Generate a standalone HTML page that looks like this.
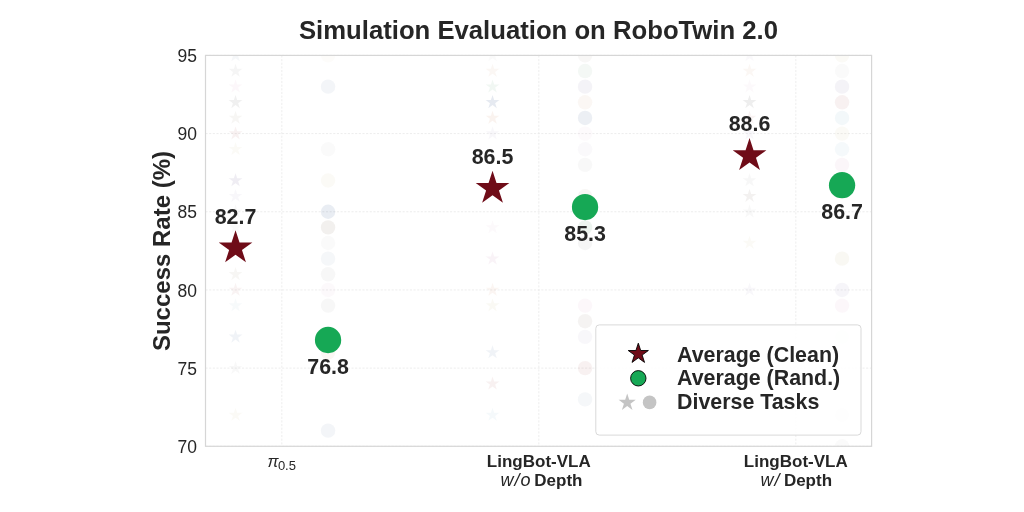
<!DOCTYPE html>
<html><head><meta charset="utf-8"><style>
html,body{margin:0;padding:0;background:#fff;width:1024px;height:512px;overflow:hidden}
svg{display:block;will-change:transform}
text{font-family:"Liberation Sans",sans-serif;fill:#262626}
.dl{font-size:21.4px;font-weight:bold}
.yt{font-size:17.5px}
.xt{font-size:17px;font-weight:bold}
.ti{font-size:25.7px;font-weight:bold}
.yl{font-size:24px;font-weight:bold}
.lg{font-size:21.4px;font-weight:bold}
</style></head><body>
<svg width="1024" height="512" viewBox="0 0 1024 512"><rect width="1024" height="512" fill="#fff"/><defs><clipPath id="pa"><rect x="205.50" y="55.40" width="666.10" height="390.90"/></clipPath></defs><path d="M205.50,446.30H871.60 M205.50,368.12H871.60 M205.50,289.94H871.60 M205.50,211.76H871.60 M205.50,133.58H871.60 M205.50,55.40H871.60 M281.80,55.40V446.30 M538.80,55.40V446.30 M795.80,55.40V446.30" stroke="#e8e8e8" stroke-width="0.8" stroke-dasharray="2.1,1.55" fill="none"/><g clip-path="url(#pa)"><path d="M235.54,48.20 L233.92,53.18 L228.69,53.18 L232.92,56.25 L231.31,61.22 L235.54,58.15 L239.77,61.22 L238.16,56.25 L242.39,53.18 L237.16,53.18 Z" fill="#54719f" fill-opacity="0.058"/><path d="M235.54,63.84 L233.92,68.81 L228.69,68.81 L232.92,71.89 L231.31,76.86 L235.54,73.79 L239.77,76.86 L238.16,71.89 L242.39,68.81 L237.16,68.81 Z" fill="#8c8c8c" fill-opacity="0.086"/><path d="M235.54,79.47 L233.92,84.45 L228.69,84.45 L232.92,87.52 L231.31,92.50 L235.54,89.42 L239.77,92.50 L238.16,87.52 L242.39,84.45 L237.16,84.45 Z" fill="#ce93bd" fill-opacity="0.072"/><path d="M235.54,95.11 L233.92,100.08 L228.69,100.08 L232.92,103.16 L231.31,108.13 L235.54,105.06 L239.77,108.13 L238.16,103.16 L242.39,100.08 L237.16,100.08 Z" fill="#8c8c8c" fill-opacity="0.130"/><path d="M235.54,110.74 L233.92,115.72 L228.69,115.72 L232.92,118.79 L231.31,123.77 L235.54,120.69 L239.77,123.77 L238.16,118.79 L242.39,115.72 L237.16,115.72 Z" fill="#8e7967" fill-opacity="0.072"/><path d="M235.54,126.38 L233.92,131.36 L228.69,131.36 L232.92,134.43 L231.31,139.40 L235.54,136.33 L239.77,139.40 L238.16,134.43 L242.39,131.36 L237.16,131.36 Z" fill="#af575a" fill-opacity="0.086"/><path d="M235.54,142.02 L233.92,146.99 L228.69,146.99 L232.92,150.07 L231.31,155.04 L235.54,151.97 L239.77,155.04 L238.16,150.07 L242.39,146.99 L237.16,146.99 Z" fill="#c7b885" fill-opacity="0.072"/><path d="M235.54,173.29 L233.92,178.26 L228.69,178.26 L232.92,181.34 L231.31,186.31 L235.54,183.24 L239.77,186.31 L238.16,181.34 L242.39,178.26 L237.16,178.26 Z" fill="#8075a6" fill-opacity="0.130"/><path d="M235.54,188.92 L233.92,193.90 L228.69,193.90 L232.92,196.97 L231.31,201.95 L235.54,198.87 L239.77,201.95 L238.16,196.97 L242.39,193.90 L237.16,193.90 Z" fill="#8075a6" fill-opacity="0.058"/><path d="M235.54,204.56 L233.92,209.54 L228.69,209.54 L232.92,212.61 L231.31,217.58 L235.54,214.51 L239.77,217.58 L238.16,212.61 L242.39,209.54 L237.16,209.54 Z" fill="#8c8c8c" fill-opacity="0.058"/><path d="M235.54,220.20 L233.92,225.17 L228.69,225.17 L232.92,228.25 L231.31,233.22 L235.54,230.15 L239.77,233.22 L238.16,228.25 L242.39,225.17 L237.16,225.17 Z" fill="#8c8c8c" fill-opacity="0.043"/><path d="M235.54,267.10 L233.92,272.08 L228.69,272.08 L232.92,275.15 L231.31,280.13 L235.54,277.05 L239.77,280.13 L238.16,275.15 L242.39,272.08 L237.16,272.08 Z" fill="#8e7967" fill-opacity="0.072"/><path d="M235.54,282.74 L233.92,287.72 L228.69,287.72 L232.92,290.79 L231.31,295.76 L235.54,292.69 L239.77,295.76 L238.16,290.79 L242.39,287.72 L237.16,287.72 Z" fill="#af575a" fill-opacity="0.072"/><path d="M235.54,298.38 L233.92,303.35 L228.69,303.35 L232.92,306.43 L231.31,311.40 L235.54,308.33 L239.77,311.40 L238.16,306.43 L242.39,303.35 L237.16,303.35 Z" fill="#73b0c2" fill-opacity="0.058"/><path d="M235.54,329.65 L233.92,334.62 L228.69,334.62 L232.92,337.70 L231.31,342.67 L235.54,339.60 L239.77,342.67 L238.16,337.70 L242.39,334.62 L237.16,334.62 Z" fill="#54719f" fill-opacity="0.086"/><path d="M235.54,360.92 L233.92,365.90 L228.69,365.90 L232.92,368.97 L231.31,373.94 L235.54,370.87 L239.77,373.94 L238.16,368.97 L242.39,365.90 L237.16,365.90 Z" fill="#8c8c8c" fill-opacity="0.058"/><path d="M235.54,407.83 L233.92,412.80 L228.69,412.80 L232.92,415.88 L231.31,420.85 L235.54,417.78 L239.77,420.85 L238.16,415.88 L242.39,412.80 L237.16,412.80 Z" fill="#c7b885" fill-opacity="0.072"/><circle cx="328.06" cy="55.40" r="7.2" fill="#c7b885" fill-opacity="0.043"/><circle cx="328.06" cy="86.67" r="7.2" fill="#54719f" fill-opacity="0.072"/><circle cx="328.06" cy="149.22" r="7.2" fill="#8c8c8c" fill-opacity="0.043"/><circle cx="328.06" cy="180.49" r="7.2" fill="#c7b885" fill-opacity="0.072"/><circle cx="328.06" cy="211.76" r="7.2" fill="#54719f" fill-opacity="0.130"/><circle cx="328.06" cy="227.40" r="7.2" fill="#8e7967" fill-opacity="0.115"/><circle cx="328.06" cy="243.03" r="7.2" fill="#8c8c8c" fill-opacity="0.043"/><circle cx="328.06" cy="258.67" r="7.2" fill="#54719f" fill-opacity="0.058"/><circle cx="328.06" cy="274.30" r="7.2" fill="#8c8c8c" fill-opacity="0.072"/><circle cx="328.06" cy="289.94" r="7.2" fill="#ce93bd" fill-opacity="0.058"/><circle cx="328.06" cy="305.58" r="7.2" fill="#8c8c8c" fill-opacity="0.072"/><circle cx="328.06" cy="352.48" r="7.2" fill="#cc8964" fill-opacity="0.072"/><circle cx="328.06" cy="430.66" r="7.2" fill="#54719f" fill-opacity="0.072"/><path d="M492.54,48.20 L490.92,53.18 L485.69,53.18 L489.92,56.25 L488.31,61.22 L492.54,58.15 L496.77,61.22 L495.16,56.25 L499.39,53.18 L494.16,53.18 Z" fill="#8c8c8c" fill-opacity="0.043"/><path d="M492.54,63.84 L490.92,68.81 L485.69,68.81 L489.92,71.89 L488.31,76.86 L492.54,73.79 L496.77,76.86 L495.16,71.89 L499.39,68.81 L494.16,68.81 Z" fill="#cc8964" fill-opacity="0.072"/><path d="M492.54,79.47 L490.92,84.45 L485.69,84.45 L489.92,87.52 L488.31,92.50 L492.54,89.42 L496.77,92.50 L495.16,87.52 L499.39,84.45 L494.16,84.45 Z" fill="#62a070" fill-opacity="0.086"/><path d="M492.54,95.11 L490.92,100.08 L485.69,100.08 L489.92,103.16 L488.31,108.13 L492.54,105.06 L496.77,108.13 L495.16,103.16 L499.39,100.08 L494.16,100.08 Z" fill="#54719f" fill-opacity="0.144"/><path d="M492.54,110.74 L490.92,115.72 L485.69,115.72 L489.92,118.79 L488.31,123.77 L492.54,120.69 L496.77,123.77 L495.16,118.79 L499.39,115.72 L494.16,115.72 Z" fill="#cc8964" fill-opacity="0.101"/><path d="M492.54,126.38 L490.92,131.36 L485.69,131.36 L489.92,134.43 L488.31,139.40 L492.54,136.33 L496.77,139.40 L495.16,134.43 L499.39,131.36 L494.16,131.36 Z" fill="#8075a6" fill-opacity="0.058"/><path d="M492.54,220.20 L490.92,225.17 L485.69,225.17 L489.92,228.25 L488.31,233.22 L492.54,230.15 L496.77,233.22 L495.16,228.25 L499.39,225.17 L494.16,225.17 Z" fill="#ce93bd" fill-opacity="0.058"/><path d="M492.54,251.47 L490.92,256.44 L485.69,256.44 L489.92,259.52 L488.31,264.49 L492.54,261.42 L496.77,264.49 L495.16,259.52 L499.39,256.44 L494.16,256.44 Z" fill="#ce93bd" fill-opacity="0.115"/><path d="M492.54,282.74 L490.92,287.72 L485.69,287.72 L489.92,290.79 L488.31,295.76 L492.54,292.69 L496.77,295.76 L495.16,290.79 L499.39,287.72 L494.16,287.72 Z" fill="#cc8964" fill-opacity="0.086"/><path d="M492.54,298.38 L490.92,303.35 L485.69,303.35 L489.92,306.43 L488.31,311.40 L492.54,308.33 L496.77,311.40 L495.16,306.43 L499.39,303.35 L494.16,303.35 Z" fill="#c7b885" fill-opacity="0.086"/><path d="M492.54,345.28 L490.92,350.26 L485.69,350.26 L489.92,353.33 L488.31,358.31 L492.54,355.23 L496.77,358.31 L495.16,353.33 L499.39,350.26 L494.16,350.26 Z" fill="#54719f" fill-opacity="0.086"/><path d="M492.54,376.56 L490.92,381.53 L485.69,381.53 L489.92,384.61 L488.31,389.58 L492.54,386.51 L496.77,389.58 L495.16,384.61 L499.39,381.53 L494.16,381.53 Z" fill="#af575a" fill-opacity="0.086"/><path d="M492.54,407.83 L490.92,412.80 L485.69,412.80 L489.92,415.88 L488.31,420.85 L492.54,417.78 L496.77,420.85 L495.16,415.88 L499.39,412.80 L494.16,412.80 Z" fill="#73b0c2" fill-opacity="0.072"/><circle cx="585.06" cy="55.40" r="7.2" fill="#8e7967" fill-opacity="0.058"/><circle cx="585.06" cy="71.04" r="7.2" fill="#62a070" fill-opacity="0.072"/><circle cx="585.06" cy="86.67" r="7.2" fill="#8075a6" fill-opacity="0.086"/><circle cx="585.06" cy="102.31" r="7.2" fill="#cc8964" fill-opacity="0.072"/><circle cx="585.06" cy="117.94" r="7.2" fill="#54719f" fill-opacity="0.115"/><circle cx="585.06" cy="133.58" r="7.2" fill="#ce93bd" fill-opacity="0.043"/><circle cx="585.06" cy="149.22" r="7.2" fill="#8075a6" fill-opacity="0.043"/><circle cx="585.06" cy="164.85" r="7.2" fill="#8c8c8c" fill-opacity="0.058"/><circle cx="585.06" cy="196.12" r="7.2" fill="#8e7967" fill-opacity="0.072"/><circle cx="585.06" cy="227.40" r="7.2" fill="#62a070" fill-opacity="0.115"/><circle cx="585.06" cy="243.03" r="7.2" fill="#8c8c8c" fill-opacity="0.086"/><circle cx="585.06" cy="305.58" r="7.2" fill="#ce93bd" fill-opacity="0.072"/><circle cx="585.06" cy="321.21" r="7.2" fill="#8e7967" fill-opacity="0.086"/><circle cx="585.06" cy="336.85" r="7.2" fill="#8075a6" fill-opacity="0.058"/><circle cx="585.06" cy="368.12" r="7.2" fill="#af575a" fill-opacity="0.086"/><circle cx="585.06" cy="399.39" r="7.2" fill="#54719f" fill-opacity="0.058"/><path d="M749.54,48.20 L747.92,53.18 L742.69,53.18 L746.92,56.25 L745.31,61.22 L749.54,58.15 L753.77,61.22 L752.16,56.25 L756.39,53.18 L751.16,53.18 Z" fill="#8075a6" fill-opacity="0.043"/><path d="M749.54,63.84 L747.92,68.81 L742.69,68.81 L746.92,71.89 L745.31,76.86 L749.54,73.79 L753.77,76.86 L752.16,71.89 L756.39,68.81 L751.16,68.81 Z" fill="#cc8964" fill-opacity="0.072"/><path d="M749.54,79.47 L747.92,84.45 L742.69,84.45 L746.92,87.52 L745.31,92.50 L749.54,89.42 L753.77,92.50 L752.16,87.52 L756.39,84.45 L751.16,84.45 Z" fill="#ce93bd" fill-opacity="0.058"/><path d="M749.54,95.11 L747.92,100.08 L742.69,100.08 L746.92,103.16 L745.31,108.13 L749.54,105.06 L753.77,108.13 L752.16,103.16 L756.39,100.08 L751.16,100.08 Z" fill="#8c8c8c" fill-opacity="0.144"/><path d="M749.54,110.74 L747.92,115.72 L742.69,115.72 L746.92,118.79 L745.31,123.77 L749.54,120.69 L753.77,123.77 L752.16,118.79 L756.39,115.72 L751.16,115.72 Z" fill="#af575a" fill-opacity="0.072"/><path d="M749.54,126.38 L747.92,131.36 L742.69,131.36 L746.92,134.43 L745.31,139.40 L749.54,136.33 L753.77,139.40 L752.16,134.43 L756.39,131.36 L751.16,131.36 Z" fill="#8075a6" fill-opacity="0.058"/><path d="M749.54,173.29 L747.92,178.26 L742.69,178.26 L746.92,181.34 L745.31,186.31 L749.54,183.24 L753.77,186.31 L752.16,181.34 L756.39,178.26 L751.16,178.26 Z" fill="#8c8c8c" fill-opacity="0.072"/><path d="M749.54,188.92 L747.92,193.90 L742.69,193.90 L746.92,196.97 L745.31,201.95 L749.54,198.87 L753.77,201.95 L752.16,196.97 L756.39,193.90 L751.16,193.90 Z" fill="#8e7967" fill-opacity="0.101"/><path d="M749.54,204.56 L747.92,209.54 L742.69,209.54 L746.92,212.61 L745.31,217.58 L749.54,214.51 L753.77,217.58 L752.16,212.61 L756.39,209.54 L751.16,209.54 Z" fill="#8c8c8c" fill-opacity="0.058"/><path d="M749.54,235.83 L747.92,240.81 L742.69,240.81 L746.92,243.88 L745.31,248.86 L749.54,245.78 L753.77,248.86 L752.16,243.88 L756.39,240.81 L751.16,240.81 Z" fill="#c7b885" fill-opacity="0.072"/><path d="M749.54,282.74 L747.92,287.72 L742.69,287.72 L746.92,290.79 L745.31,295.76 L749.54,292.69 L753.77,295.76 L752.16,290.79 L756.39,287.72 L751.16,287.72 Z" fill="#8075a6" fill-opacity="0.058"/><circle cx="842.06" cy="55.40" r="7.2" fill="#c7b885" fill-opacity="0.072"/><circle cx="842.06" cy="71.04" r="7.2" fill="#8c8c8c" fill-opacity="0.043"/><circle cx="842.06" cy="86.67" r="7.2" fill="#8075a6" fill-opacity="0.086"/><circle cx="842.06" cy="102.31" r="7.2" fill="#af575a" fill-opacity="0.086"/><circle cx="842.06" cy="117.94" r="7.2" fill="#73b0c2" fill-opacity="0.086"/><circle cx="842.06" cy="133.58" r="7.2" fill="#c7b885" fill-opacity="0.072"/><circle cx="842.06" cy="149.22" r="7.2" fill="#73b0c2" fill-opacity="0.072"/><circle cx="842.06" cy="164.85" r="7.2" fill="#ce93bd" fill-opacity="0.086"/><circle cx="842.06" cy="180.49" r="7.2" fill="#af575a" fill-opacity="0.043"/><circle cx="842.06" cy="258.67" r="7.2" fill="#c7b885" fill-opacity="0.101"/><circle cx="842.06" cy="289.94" r="7.2" fill="#8075a6" fill-opacity="0.072"/><circle cx="842.06" cy="305.58" r="7.2" fill="#ce93bd" fill-opacity="0.072"/><circle cx="842.06" cy="336.85" r="7.2" fill="#62a070" fill-opacity="0.043"/><circle cx="842.06" cy="415.03" r="7.2" fill="#8c8c8c" fill-opacity="0.058"/><circle cx="842.06" cy="446.30" r="7.2" fill="#8c8c8c" fill-opacity="0.043"/></g><path d="M235.54,230.22 L231.57,242.45 L218.71,242.45 L229.11,250.01 L225.14,262.24 L235.54,254.68 L245.94,262.24 L241.97,250.01 L252.37,242.45 L239.51,242.45 Z" fill="#6f0c18"/><circle cx="328.06" cy="339.98" r="13.15" fill="#16a855"/><text x="235.54" y="223.62" text-anchor="middle" class="dl">82.7</text><text x="328.06" y="373.98" text-anchor="middle" class="dl">76.8</text><path d="M492.54,170.81 L488.57,183.04 L475.71,183.04 L486.11,190.60 L482.14,202.83 L492.54,195.27 L502.94,202.83 L498.97,190.60 L509.37,183.04 L496.51,183.04 Z" fill="#6f0c18"/><circle cx="585.06" cy="207.07" r="13.15" fill="#16a855"/><text x="492.54" y="164.21" text-anchor="middle" class="dl">86.5</text><text x="585.06" y="241.07" text-anchor="middle" class="dl">85.3</text><path d="M749.54,137.97 L745.57,150.20 L732.71,150.20 L743.11,157.76 L739.14,169.99 L749.54,162.43 L759.94,169.99 L755.97,157.76 L766.37,150.20 L753.51,150.20 Z" fill="#6f0c18"/><circle cx="842.06" cy="185.18" r="13.15" fill="#16a855"/><text x="749.54" y="131.37" text-anchor="middle" class="dl">88.6</text><text x="842.06" y="219.18" text-anchor="middle" class="dl">86.7</text><rect x="205.50" y="55.40" width="666.10" height="390.90" fill="none" stroke="#d6d6d6" stroke-width="1.2"/><text x="197" y="452.90" text-anchor="end" class="yt">70</text><text x="197" y="374.72" text-anchor="end" class="yt">75</text><text x="197" y="296.54" text-anchor="end" class="yt">80</text><text x="197" y="218.36" text-anchor="end" class="yt">85</text><text x="197" y="140.18" text-anchor="end" class="yt">90</text><text x="197" y="62.00" text-anchor="end" class="yt">95</text><text x="267.6" y="467.4" class="xt" style="font-weight:normal"><tspan font-style="italic" font-size="16.5">π</tspan><tspan x="277.9" y="469.9" font-size="13">0.5</tspan></text><text x="538.80" y="467.1" text-anchor="middle" class="xt">LingBot-VLA</text><text y="486" class="xt"><tspan x="500.6" font-style="italic" font-weight="normal" font-size="18" letter-spacing="1">w/o</tspan><tspan x="534.3">Depth</tspan></text><text x="795.80" y="467.1" text-anchor="middle" class="xt">LingBot-VLA</text><text y="486" class="xt"><tspan x="760.6" font-style="italic" font-weight="normal" font-size="18" letter-spacing="1">w/</tspan><tspan x="783.9">Depth</tspan></text><text x="538.5" y="38.6" text-anchor="middle" class="ti">Simulation Evaluation on RoboTwin 2.0</text><text transform="translate(169.9,251) rotate(-90)" text-anchor="middle" class="yl">Success Rate (%)</text><rect x="595.8" y="324.9" width="265.2" height="110.2" rx="3.5" fill="#fff" fill-opacity="0.85" stroke="#d9d9d9" stroke-width="1"/><path d="M638.30,343.20 L635.92,350.52 L628.22,350.52 L634.45,355.05 L632.07,362.38 L638.30,357.85 L644.53,362.38 L642.15,355.05 L648.38,350.52 L640.68,350.52 Z" fill="#6f0c18" stroke="#000" stroke-width="0.9"/><circle cx="638.3" cy="378.3" r="7.7" fill="#16a855" stroke="#000" stroke-width="0.9"/><path d="M627.20,393.60 L625.18,399.82 L618.64,399.82 L623.93,403.66 L621.91,409.88 L627.20,406.04 L632.49,409.88 L630.47,403.66 L635.76,399.82 L629.22,399.82 Z" fill="#c4c4c4"/><circle cx="649.6" cy="402.4" r="6.8" fill="#c4c4c4"/><text x="677" y="361.6" class="lg">Average (Clean)</text><text x="677" y="385.3" class="lg">Average (Rand.)</text><text x="677" y="409.2" class="lg">Diverse Tasks</text></svg>
</body></html>
